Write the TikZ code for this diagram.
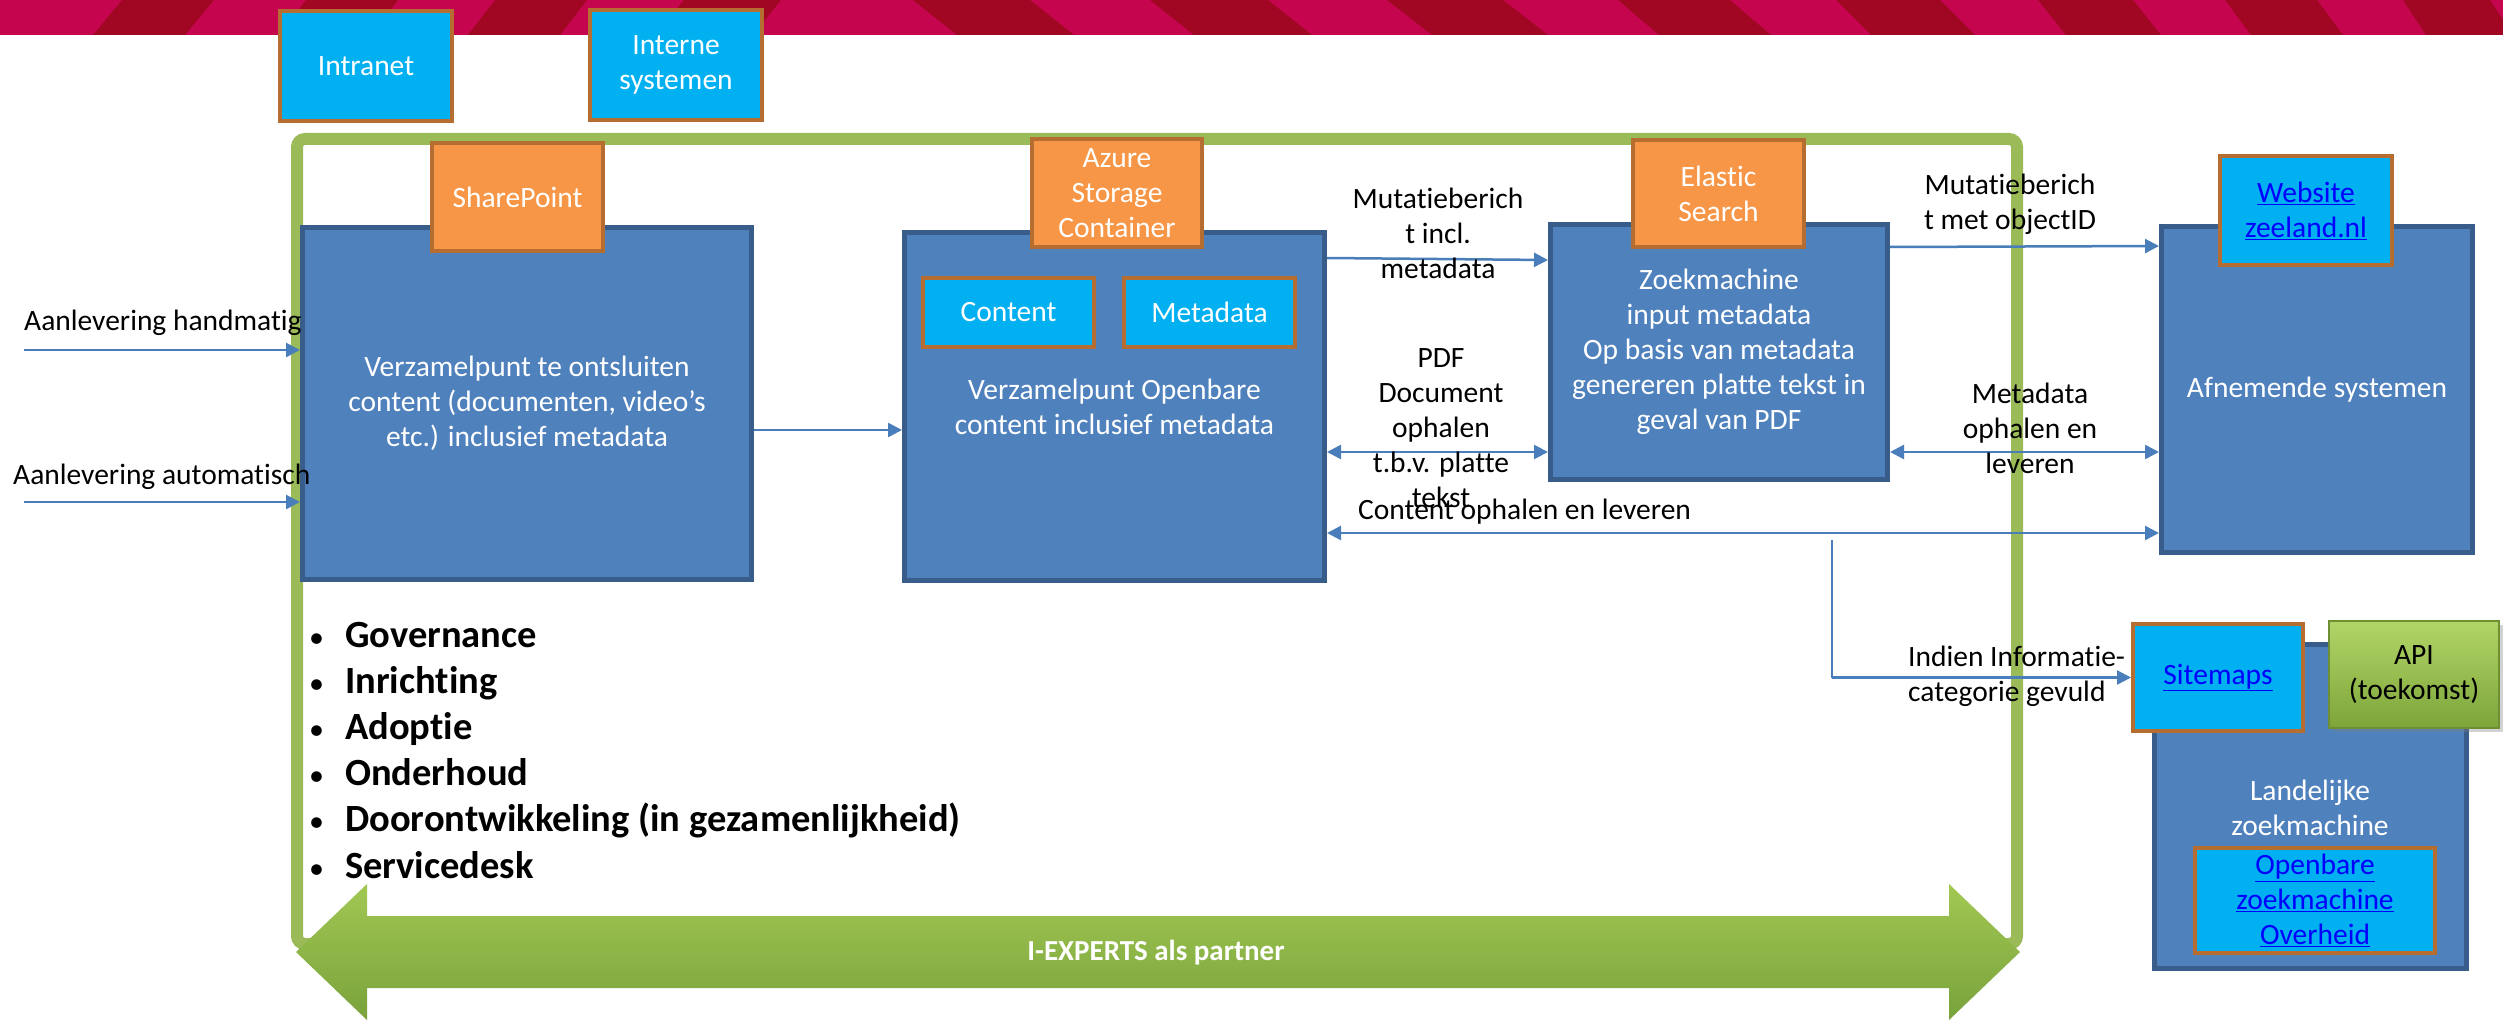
\documentclass[tikz,border=0pt]{standalone}
\usepackage{fontspec}
\setmainfont{Carlito}[Ligatures=NoCommon]
\usetikzlibrary{arrows.meta,calc,shadows}
\definecolor{bfill}{HTML}{4F81BD}
\definecolor{bdraw}{HTML}{385D8A}
\definecolor{ofill}{HTML}{F79646}
\definecolor{odraw}{HTML}{B66D31}
\definecolor{cfill}{HTML}{00B0F0}
\definecolor{gframe}{HTML}{9BBB59}
\definecolor{linkc}{HTML}{0000FF}
\definecolor{conn}{HTML}{4A7EBB}
\definecolor{stripeA}{HTML}{C5064F}
\definecolor{stripeB}{HTML}{A10623}
\definecolor{arrT}{HTML}{A2C853}
\definecolor{arrB}{HTML}{78A23B}
\definecolor{apiT}{HTML}{B2D567}
\definecolor{apiB}{HTML}{7DA53A}
\definecolor{apiD}{HTML}{6E8F34}
\newcommand\myfs{\fontsize{29.5pt}{35pt}\selectfont}
\newcommand\mybul{\fontsize{38.5pt}{44pt}\selectfont\bfseries}
\begin{document}
\begin{tikzpicture}[x=1pt,y=-1pt,
  bluebox/.style={draw=bdraw, fill=bfill, line width=5pt, inner sep=0pt, text=white, align=center, font=\myfs},
  orangebox/.style={draw=odraw, fill=ofill, line width=4pt, inner sep=0pt, text=white, align=center, font=\myfs},
  cyanbox/.style={draw=odraw, fill=cfill, line width=4pt, inner sep=0pt, text=white, align=center, font=\myfs},
  lbl/.style={inner sep=0pt, align=center, font=\myfs, text=black},
  arr/.style={draw=conn, line width=2.5pt, -{Triangle[length=14pt,width=14pt]}},
  darr/.style={draw=conn, line width=2.5pt, {Triangle[length=14pt,width=14pt]}-{Triangle[length=14pt,width=14pt]}},
]
\useasboundingbox (0,0) rectangle (2503,1030);
\fill[white] (0,0) rectangle (2503,1030);
% striped band
\fill[stripeA] (0,0) rectangle (2503,35);
\foreach \tl/\tr/\s in {122/214/-29, 306/398/-26, 495/587/-27, 684/781/-28, 913/1030/44, 1150/1268/44, 1387/1503/45, 1618/1730/41, 1836/1940/35, 2038/2133/28, 2225/2317/26, 2403/2490/23}
  \fill[stripeB] (\tl,0) -- (\tr,0) -- ({\tr+\s},35) -- ({\tl+\s},35) -- cycle;

% green frame
\draw[gframe, line width=12pt, rounded corners=8pt] (297,139) rectangle (2017,944);

% main boxes
\node[bluebox, minimum width=449pt, minimum height=352pt] (b1) at (527,403.5) {Verzamelpunt te ontsluiten\\content (documenten, video’s\\etc.) inclusief metadata};
\node[bluebox, minimum width=420pt, minimum height=348pt] (b2) at (1114.5,406.5) {Verzamelpunt Openbare\\content inclusief metadata};
\node[bluebox, minimum width=337pt, minimum height=255pt] (b3) at (1719,352) {Zoekmachine\\input metadata\\Op basis van metadata\\genereren platte tekst in\\geval van PDF};
\node[bluebox, minimum width=311pt, minimum height=326pt] (b4) at (2317,389.5) {Afnemende systemen};
\node[bluebox, minimum width=312pt, minimum height=324pt] (b5) at (2310.5,806.5) {};
\node[lbl, text=white] (lz) at (2310,808) {Landelijke\\zoekmachine};

% top boxes
\node[orangebox, minimum width=171pt, minimum height=108pt] (sp) at (517.5,197) {SharePoint};
\node[orangebox, minimum width=170pt, minimum height=108pt] (az) at (1117,193) {Azure\\Storage\\Container};
\node[orangebox, minimum width=171pt, minimum height=107pt] (es) at (1718.5,193.5) {Elastic\\Search};
\node[cyanbox, minimum width=172pt, minimum height=110pt] (intra) at (366,66) {Intranet};
\node[cyanbox, minimum width=172pt, minimum height=110pt] (intern) at (676,65) {Interne\\systemen};
\node[cyanbox, minimum width=171pt, minimum height=69pt] (ct) at (1008.5,312.5) {Content};
\node[cyanbox, minimum width=171pt, minimum height=69pt] (md) at (1209.5,312.5) {Metadata};
\node[cyanbox, text=linkc, minimum width=172pt, minimum height=109pt] (web) at (2306,210.5) {\underline{Website}\\\underline{zeeland.nl}};
\node[cyanbox, text=linkc, minimum width=170pt, minimum height=107pt] (sm) at (2218,677.5) {\underline{Sitemaps}};
\node[cyanbox, text=linkc, minimum width=240pt, minimum height=105pt] (ozo) at (2315,900.5) {\underline{Openbare}\\\underline{zoekmachine}\\\underline{Overheid}};
\node[draw=apiD, line width=1.5pt, top color=apiT, bottom color=apiB, minimum width=170pt, minimum height=107pt, inner sep=0pt, align=center, font=\myfs, text=black, drop shadow={opacity=0.35, shadow xshift=4pt, shadow yshift=-4pt}] (api) at (2414,674.5) {API\\(toekomst)};

% connectors
\coordinate (h0) at (24,350);
\draw[arr] (h0) -- (h0 -| b1.west);
\coordinate (a0) at (24,502);
\draw[arr] (a0) -- (a0 -| b1.west);
\draw[arr] ($(b1.east)+(0,26.5)$) -- ($(b2.west)+(0,23.5)$);
\draw[arr] ($(b2.east)+(0,-148.5)$) -- ($(b3.west)+(0,-92)$);
\draw[darr] ($(b2.east)+(0,45.5)$) -- ($(b3.west)+(0,100)$);
\draw[arr] ($(b3.east)+(0,-105)$) -- ($(b4.west)+(0,-143.5)$);
\draw[darr] ($(b3.east)+(0,100)$) -- ($(b4.west)+(0,62.5)$);
\draw[darr] ($(b2.east)+(0,126.5)$) -- ($(b4.west)+(0,143.5)$);
\coordinate (s0) at (1832,540);
\coordinate (s1) at (1832,677.5);
\draw[conn, line width=1.8pt] (s0) -- (s1);
\draw[arr] (s1) -- (sm.west);

% labels
\node[lbl, anchor=west] (lh) at (24,323) {Aanlevering handmatig};
\node[lbl, anchor=west] (la) at (13,477) {Aanlevering automatisch};
\node[lbl] (lm1) at (1438,233) {Mutatieberich\\t incl.\\metadata};
\node[lbl] (lpdf) at (1441,428) {PDF\\Document\\ophalen\\t.b.v. platte\\tekst};
\node[lbl] (lm2) at (2010,204.5) {Mutatieberich\\t met objectID};
\node[lbl] (lmd) at (2030,428) {Metadata\\ophalen en\\leveren};
\node[lbl, anchor=west] (lc) at (1358,512) {Content ophalen en leveren};
\node[lbl, anchor=west, align=left] (li) at (1908,676) {Indien Informatie-\\categorie gevuld};

% bullets
\foreach \t [count=\i from 0] in {Governance, Inrichting, Adoptie, Onderhoud, Doorontwikkeling (in gezamenlijkheid), Servicedesk}
  \node[anchor=base west, inner sep=0pt, font=\mybul] (bul\i) at (309,{647+46.2*\i}) {\makebox[36pt][l]{\fontsize{30pt}{30pt}\selectfont\mdseries •}\t};

% partner arrow
\shade[top color=arrT, bottom color=arrB] (296,952) -- (367,884) -- (367,916) -- (1949,916) -- (1949,884) -- (2020,952) -- (1949,1020) -- (1949,988) -- (367,988) -- (367,1020) -- cycle;
\node[inner sep=0pt, text=white, font=\fontsize{29pt}{32pt}\selectfont\bfseries] (partner) at (1156,953) {I-EXPERTS als partner};
\end{tikzpicture}
\end{document}
